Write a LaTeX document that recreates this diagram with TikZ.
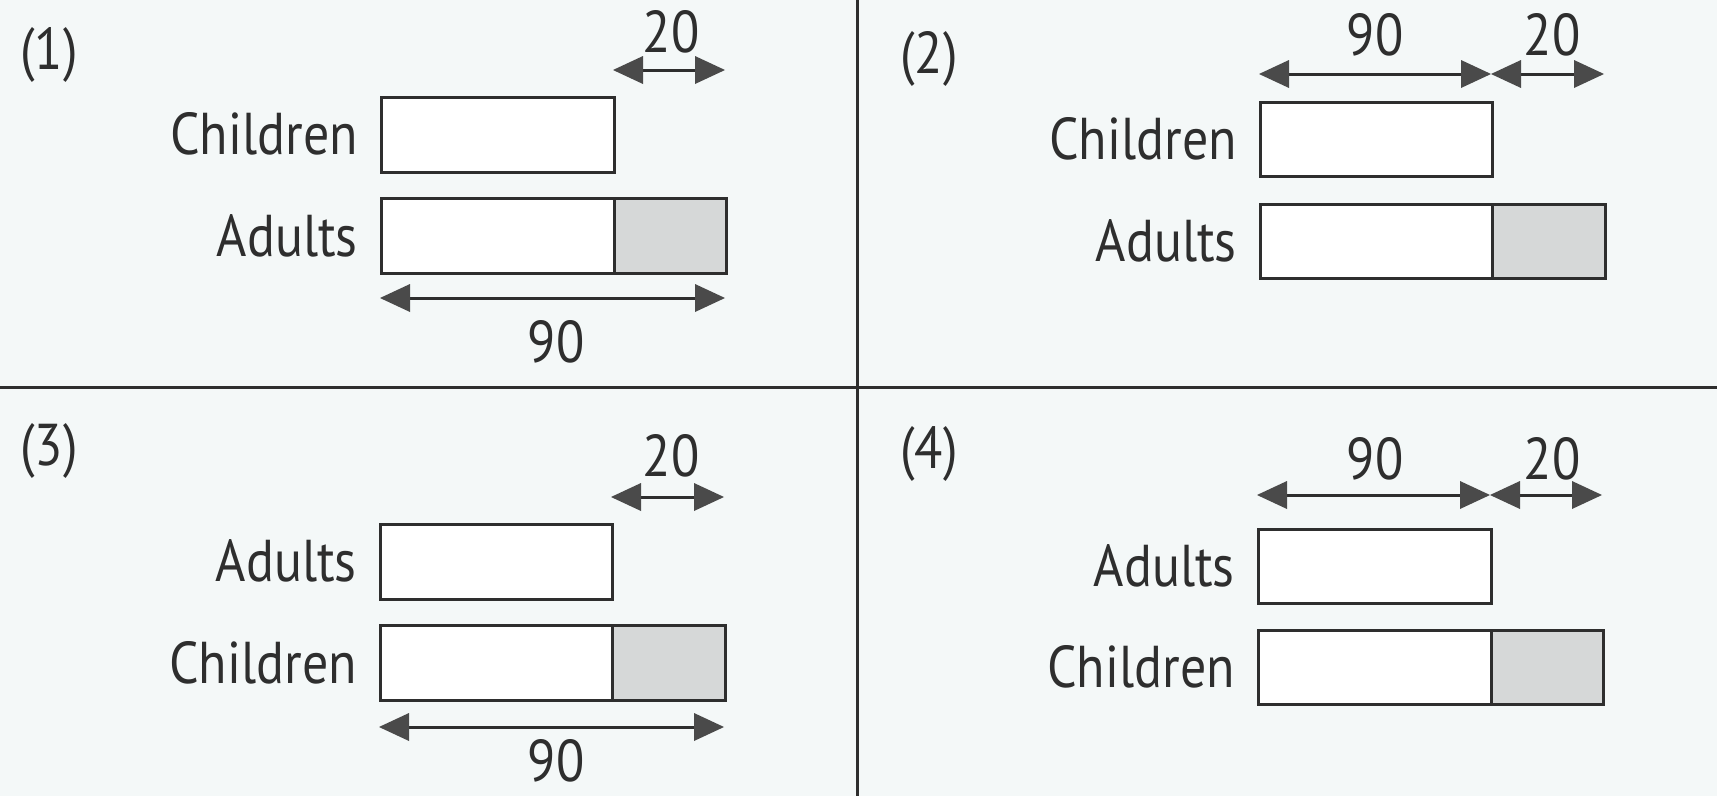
\documentclass[tikz,border=0pt]{standalone}
\usepackage{fontspec}
\setmainfont{PT Sans}[FakeStretch=0.88]
\usetikzlibrary{arrows.meta}
\definecolor{bg}{HTML}{F4F8F8}
\definecolor{ink}{HTML}{2E2E2E}
\definecolor{headc}{HTML}{4A4A4A}
\definecolor{shade}{HTML}{D6D8D8}
\begin{document}
\begin{tikzpicture}[x=1pt,y=-1pt,
  box/.style={draw=ink, line width=2.8pt, fill=white, inner sep=0pt, anchor=north west},
  dimline/.style={draw=ink, line width=3pt,
    {Triangle[length=30pt,width=28pt,fill=headc,line width=0pt]}-{Triangle[length=30pt,width=28pt,fill=headc,line width=0pt]}},
  lab/.style={font=\fontsize{59}{64}\selectfont, text=ink, inner sep=0pt},
  rule/.style={draw=ink, line width=3pt}]
\fill[bg] (0,0) rectangle (1717,796);
\useasboundingbox (0,0) rectangle (1717,796);
% dividers
\coordinate (hl) at (0,387); \coordinate (hr) at (1717,387);
\coordinate (vt) at (857,0); \coordinate (vb) at (857,796);
\draw[rule] (hl) -- (hr);
\draw[rule] (vt) -- (vb);

% ---------- panel 1 ----------
\node[lab] (p1num) at (49,55) {(1)};
\node[box, minimum width=233pt, minimum height=75pt] (p1a) at (380,96) {};
\node[box, minimum width=233pt, minimum height=75pt] (p1b) at (380,197) {};
\node[box, fill=shade, minimum width=112pt, minimum height=75pt] (p1g) at (613,197) {};
\node[lab, anchor=east] (p1la) at (358,134) {Children};
\node[lab, anchor=east] (p1lb) at (358,236) {Adults};
\coordinate (p1s) at (613,70); \coordinate (p1e) at (725,70);
\draw[dimline] (p1s) -- (p1e);
\node[lab] (p1t20) at (671,32) {20};
\coordinate (p1s2) at (380,298); \coordinate (p1e2) at (725,298);
\draw[dimline] (p1s2) -- (p1e2);
\node[lab] (p1t90) at (556,342) {90};

% ---------- panel 2 ----------
\node[lab] (p2num) at (929,59) {(2)};
\node[box, minimum width=232pt, minimum height=74pt] (p2a) at (1259,101) {};
\node[box, minimum width=232pt, minimum height=74pt] (p2b) at (1259,203) {};
\node[box, fill=shade, minimum width=113pt, minimum height=74pt] (p2g) at (1491,203) {};
\node[lab, anchor=east] (p2la) at (1237,139) {Children};
\node[lab, anchor=east] (p2lb) at (1237,241) {Adults};
\coordinate (p2s) at (1259,74); \coordinate (p2m) at (1491,74); \coordinate (p2e) at (1604,74);
\draw[dimline] (p2s) -- (p2m);
\draw[dimline] (p2m) -- (p2e);
\node[lab] (p2t90) at (1375,35) {90};
\node[lab] (p2t20) at (1552,35) {20};

% ---------- panel 3 ----------
\node[lab] (p3num) at (49,451) {(3)};
\node[box, minimum width=232pt, minimum height=75pt] (p3a) at (379,523) {};
\node[box, minimum width=232pt, minimum height=75pt] (p3b) at (379,624) {};
\node[box, fill=shade, minimum width=113pt, minimum height=75pt] (p3g) at (611,624) {};
\node[lab, anchor=east] (p3la) at (357,561) {Adults};
\node[lab, anchor=east] (p3lb) at (357,663) {Children};
\coordinate (p3s) at (611,497); \coordinate (p3e) at (724,497);
\draw[dimline] (p3s) -- (p3e);
\node[lab] (p3t20) at (671,456) {20};
\coordinate (p3s2) at (379,727); \coordinate (p3e2) at (724,727);
\draw[dimline] (p3s2) -- (p3e2);
\node[lab] (p3t90) at (556,761) {90};

% ---------- panel 4 ----------
\node[lab] (p4num) at (929,454) {(4)};
\node[box, minimum width=233pt, minimum height=74pt] (p4a) at (1257,528) {};
\node[box, minimum width=233pt, minimum height=74pt] (p4b) at (1257,629) {};
\node[box, fill=shade, minimum width=112pt, minimum height=74pt] (p4g) at (1490,629) {};
\node[lab, anchor=east] (p4la) at (1235,566) {Adults};
\node[lab, anchor=east] (p4lb) at (1235,667) {Children};
\coordinate (p4s) at (1257,495); \coordinate (p4m) at (1490,495); \coordinate (p4e) at (1602,495);
\draw[dimline] (p4s) -- (p4m);
\draw[dimline] (p4m) -- (p4e);
\node[lab] (p4t90) at (1375,459) {90};
\node[lab] (p4t20) at (1552,459) {20};
\end{tikzpicture}
\end{document}
